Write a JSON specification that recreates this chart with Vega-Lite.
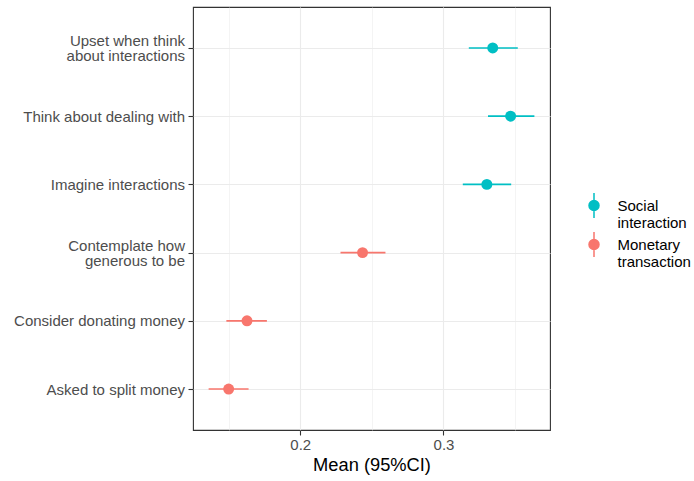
{
  "$schema": "https://vega.github.io/schema/vega-lite/v6.json",
  "autosize": "none",
  "width": 357,
  "height": 423,
  "padding": {"left": 193, "top": 7, "right": 144, "bottom": 51},
  "background": "white",
  "config": {
    "font": "Liberation Sans",
    "view": {"stroke": "#333333", "strokeWidth": 1.1},
    "axis": {
      "domain": false,
      "gridColor": "#EBEBEB",
      "gridWidth": 1.1,
      "tickColor": "#333333",
      "tickSize": 5,
      "tickWidth": 1.1,
      "labelColor": "#4D4D4D",
      "labelFont": "Liberation Sans",
      "labelFontSize": 15,
      "titleFont": "Liberation Sans",
      "titleColor": "#000000",
      "titleFontWeight": "normal",
      "titleFontSize": 18.3
    },
    "legend": {
      "labelFont": "Liberation Sans",
      "labelFontSize": 15,
      "labelColor": "#000000"
    }
  },
  "data": {
    "values": [
      {"item": "Upset when think\nabout interactions", "group": "Social interaction", "mean": 0.3344, "lo": 0.3177, "hi": 0.3519},
      {"item": "Think about dealing with", "group": "Social interaction", "mean": 0.3469, "lo": 0.3311, "hi": 0.3635},
      {"item": "Imagine interactions", "group": "Social interaction", "mean": 0.3303, "lo": 0.3135, "hi": 0.3473},
      {"item": "Contemplate how\ngenerous to be", "group": "Monetary transaction", "mean": 0.2435, "lo": 0.2281, "hi": 0.2595},
      {"item": "Consider donating money", "group": "Monetary transaction", "mean": 0.1628, "lo": 0.1484, "hi": 0.1767},
      {"item": "Asked to split money", "group": "Monetary transaction", "mean": 0.15, "lo": 0.136, "hi": 0.1639}
    ]
  },
  "resolve": {"axis": {"x": "independent"}},
  "layer": [
    {
      "mark": {"type": "rule", "strokeWidth": 1.6},
      "encoding": {
        "x": {
          "field": "lo", "type": "quantitative",
          "scale": {"domain": [0.1251, 0.3744], "nice": false, "zero": false},
          "axis": {"orient": "top", "values": [0.15, 0.25, 0.35], "labels": false, "ticks": false, "domain": false, "title": null, "grid": true, "gridWidth": 0.55, "gridColor": "#EBEBEB"}
        },
        "x2": {"field": "hi"},
        "y": {
          "field": "item", "type": "nominal",
          "sort": ["Upset when think\nabout interactions", "Think about dealing with", "Imagine interactions", "Contemplate how\ngenerous to be", "Consider donating money", "Asked to split money"],
          "scale": {"type": "point", "padding": 0.6},
          "axis": {
            "title": null, "grid": true,
            "labelExpr": "split(datum.label, '\\n')",
            "labelLineHeight": 15.3, "labelPadding": 3.5, "labelLimit": 300,
            "labelOffset": {"condition": {"test": "indexof(datum.label, '\\n') >= 0", "value": -7.6}, "value": 0}
          }
        },
        "color": {
          "field": "group", "type": "nominal",
          "scale": {"domain": ["Social interaction", "Monetary transaction"], "range": ["#00BFC4", "#F8766D"]}
        }
      }
    },
    {
      "mark": {"type": "point", "filled": true, "opacity": 1, "size": 120},
      "encoding": {
        "x": {
          "field": "mean", "type": "quantitative",
          "scale": {"domain": [0.1251, 0.3744], "nice": false, "zero": false},
          "axis": {"values": [0.2, 0.3], "title": "Mean (95%CI)", "grid": true, "labelPadding": 2, "titlePadding": 4}
        },
        "y": {
          "field": "item", "type": "nominal",
          "sort": ["Upset when think\nabout interactions", "Think about dealing with", "Imagine interactions", "Contemplate how\ngenerous to be", "Consider donating money", "Asked to split money"]
        },
        "color": {
          "field": "group", "type": "nominal",
          "scale": {"domain": ["Social interaction", "Monetary transaction"], "range": ["#00BFC4", "#F8766D"]},
          "legend": {
            "title": null,
            "orient": "none",
            "legendX": 387.5,
            "legendY": 185,
            "padding": 0,
            "symbolType": "M0,-1V1M-0.4,0A0.4,0.4 0 1,1 0.4,0A0.4,0.4 0 1,1 -0.4,0Z",
            "symbolSize": 625,
            "symbolStrokeWidth": 1.5,
            "labelOffset": 10,
            "rowPadding": -17,
            "labelExpr": "split(datum.label, ' ')"
          }
        }
      }
    }
  ]
}
